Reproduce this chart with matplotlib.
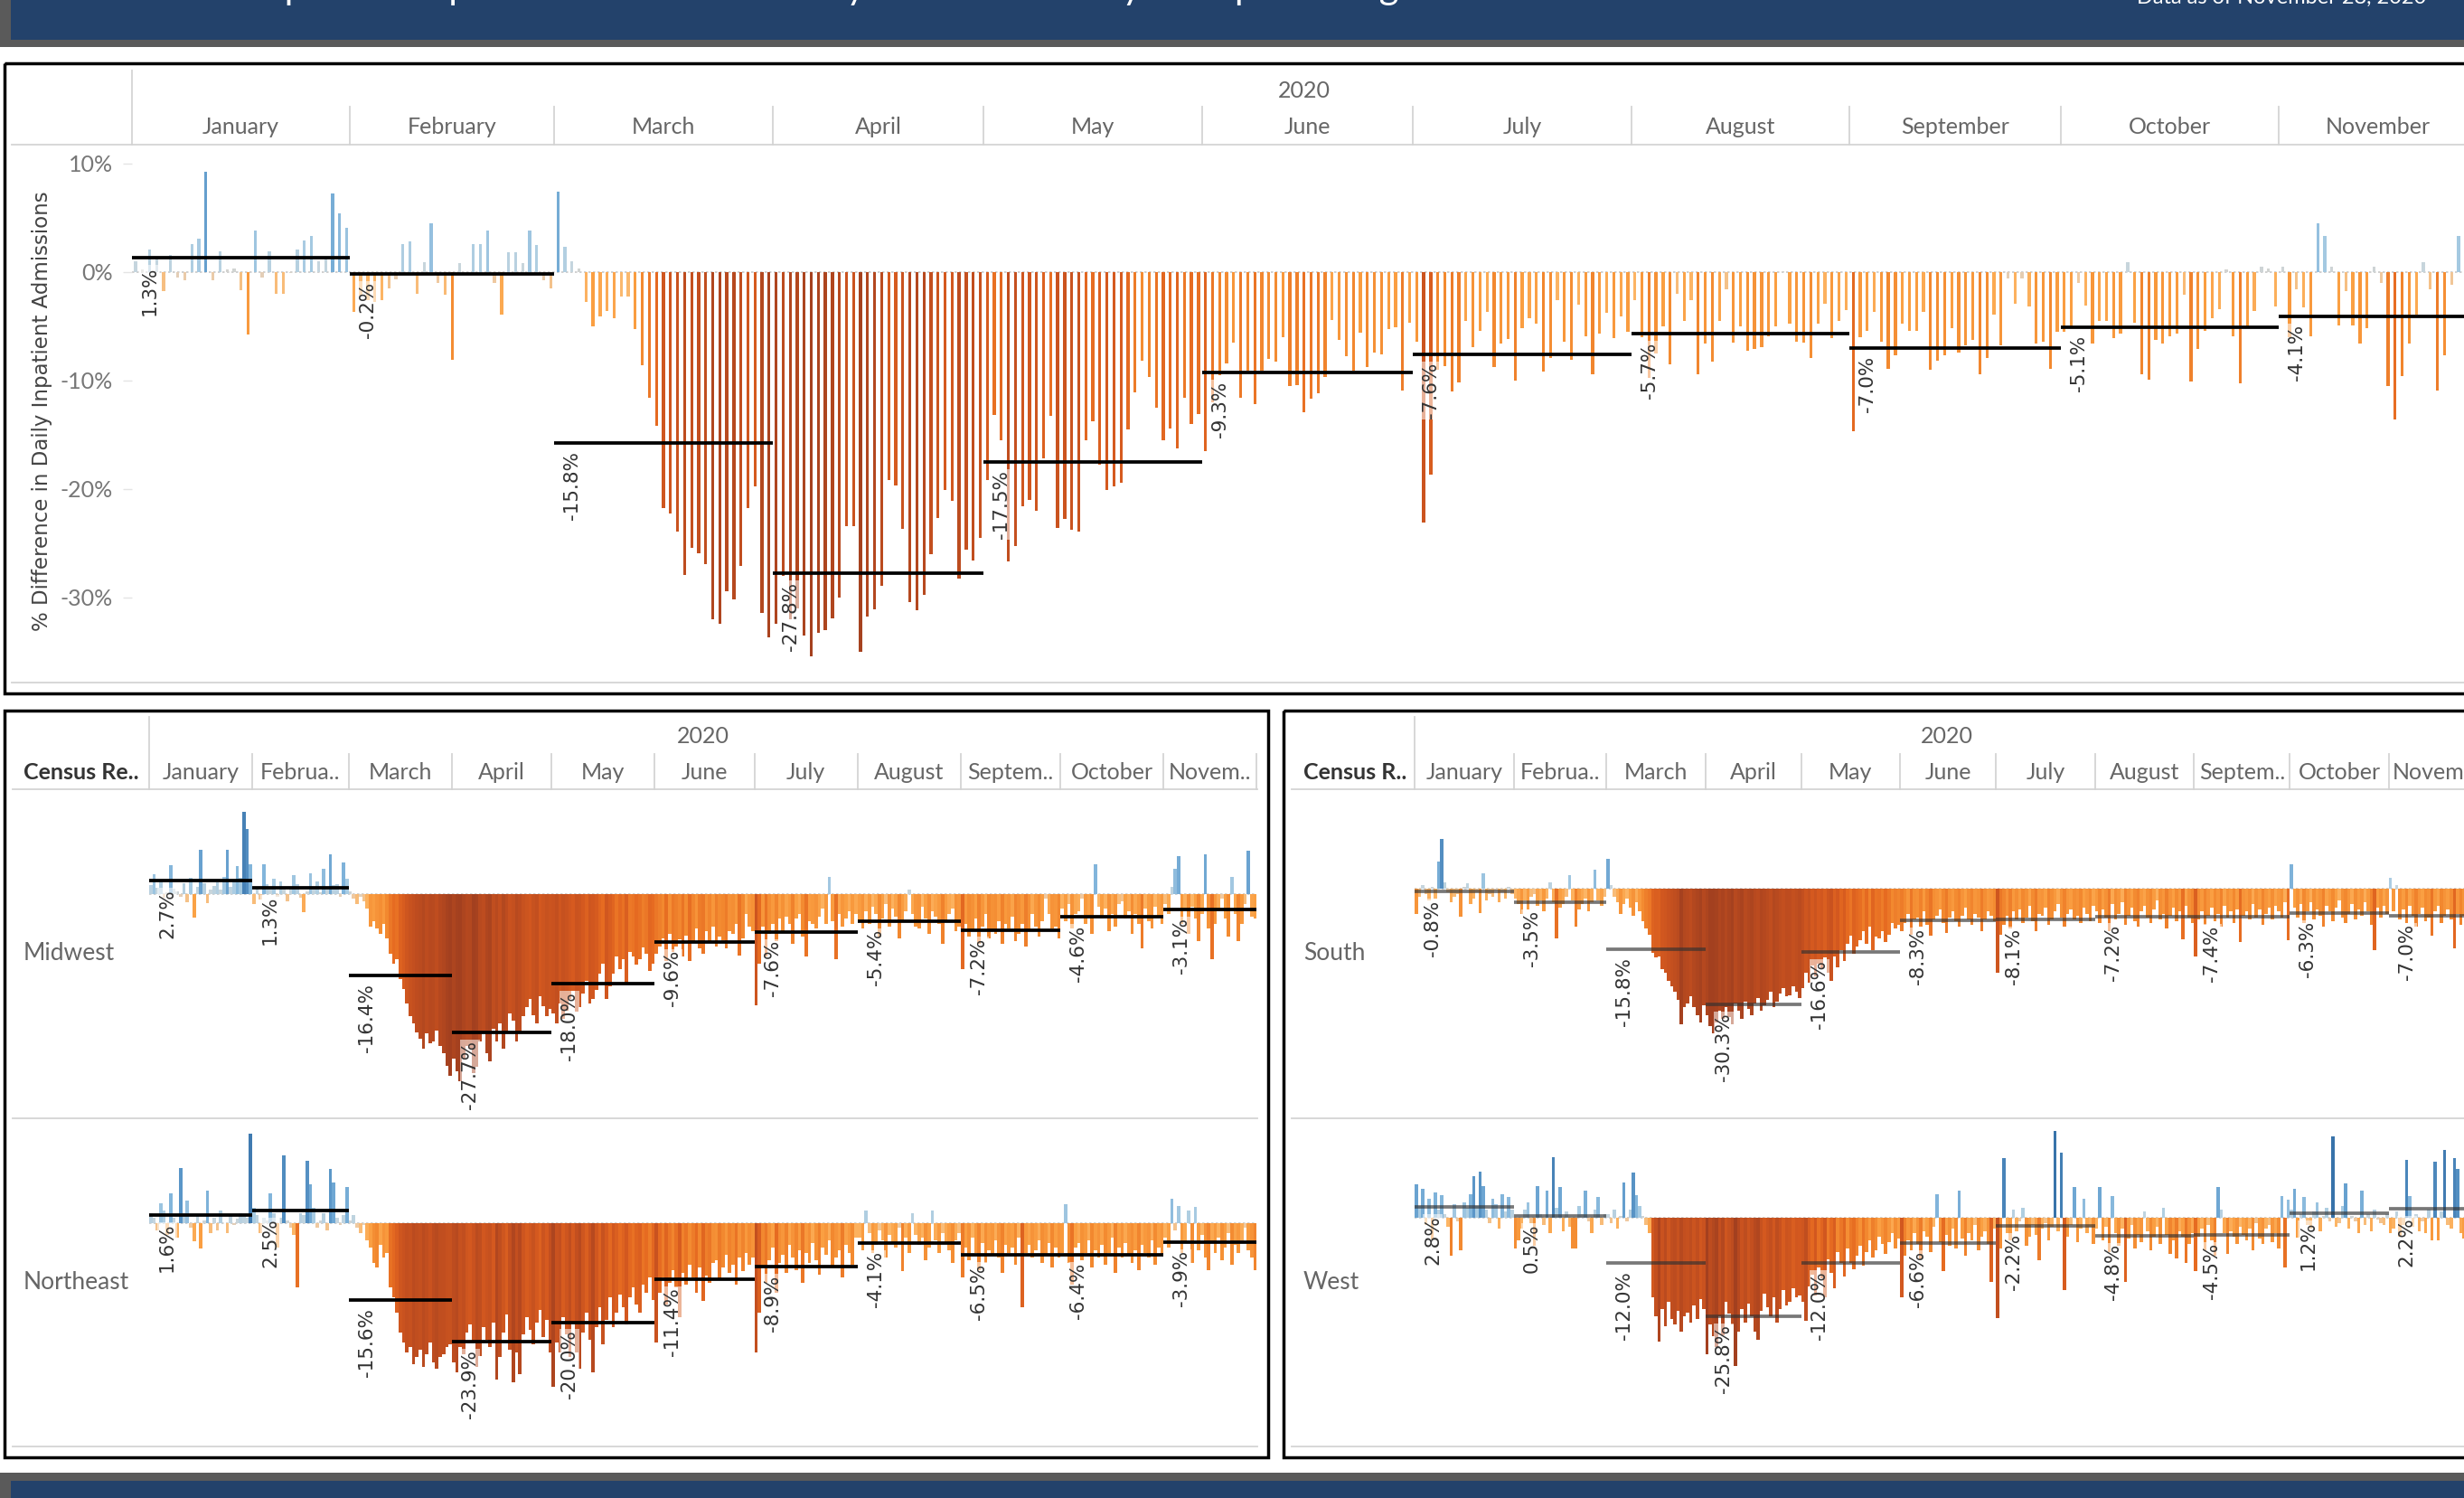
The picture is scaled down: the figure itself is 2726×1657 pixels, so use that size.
import numpy as np
import matplotlib
matplotlib.use("Agg")
from matplotlib import pyplot as plt
from matplotlib.patches import Rectangle
from matplotlib.colors import to_rgb

W, H = 2726, 1657

month_names = ["January", "February", "March", "April", "May", "June", "July",
               "August", "September", "October", "November"]
month_names_short = ["January", "Februa..", "March", "April", "May", "June", "July",
                     "August", "Septem..", "October", "Novem.."]
month_days = [31, 29, 31, 30, 31, 30, 31, 31, 30, 31, 28]

# daily % difference, one list per month
national = [
    [1.0, 0.2, 2.1, 1.2, -1.8, 1.6, -0.5, -0.8, 2.6, 3.1, 9.2, -0.8, 1.9, 0.2, 0.3, -1.7,
     -5.8, 3.8, -0.5, 1.9, -2.0, -2.0, -0.1, 2.1, 2.9, 3.3, 1.0, 1.2, 7.2, 5.4, 4.1],
    [-3.7, -2.2, -2.6, -2.8, -2.6, -1.5, -0.7, 2.6, 2.8, -2.0, 0.9, 4.5, -1.0, -2.1, -8.1,
     0.8, 0.0, 2.6, 2.6, 3.8, -1.0, -3.9, 1.8, 1.8, 0.8, 3.8, 2.5, -0.8, -1.5],
    [7.4, 2.3, 1.0, 0.3, -2.8, -5.0, -4.1, -3.6, -4.3, -2.3, -2.3, -5.3, -8.6, -11.6, -14.2,
     -21.8, -22.3, -23.9, -27.9, -25.4, -25.9, -26.9, -32.0, -32.4, -29.4, -30.2, -27.1,
     -21.8, -19.8, -31.4, -33.7],
    [-32.4, -28.0, -32.0, -31.0, -33.5, -35.4, -33.3, -33.0, -31.9, -30.0, -23.4, -23.4,
     -35.0, -31.8, -31.1, -28.9, -19.2, -19.7, -23.7, -30.4, -31.2, -29.8, -26.0, -22.7,
     -20.1, -21.1, -28.3, -25.6, -26.6, -24.5],
    [-19.2, -13.2, -15.5, -26.7, -25.3, -21.6, -21.0, -22.0, -17.2, -13.3, -23.6, -22.8,
     -23.8, -23.9, -15.5, -13.8, -17.8, -20.1, -19.8, -19.4, -14.5, -11.1, -8.2, -9.7,
     -12.5, -15.5, -14.4, -16.3, -11.6, -14.0, -13.1],
    [-16.5, -12.0, -9.5, -8.4, -6.5, -11.6, -9.1, -12.2, -9.1, -8.0, -8.3, -6.0, -10.5,
     -10.4, -12.9, -11.7, -11.2, -9.7, -4.4, -6.3, -7.8, -9.1, -5.6, -8.8, -7.4, -7.6,
     -5.3, -5.1, -10.9, -4.7],
    [-6.4, -23.1, -18.7, -9.0, -8.7, -11.0, -10.2, -4.5, -6.9, -5.4, -3.7, -8.8, -6.6,
     -6.2, -10.0, -5.2, -4.3, -4.8, -9.2, -7.9, -2.6, -6.4, -8.1, -3.0, -5.9, -9.4, -5.7,
     -3.8, -6.1, -4.1, -5.5],
    [-2.6, -6.0, -9.8, -7.5, -5.0, -8.5, -2.0, -4.5, -2.6, -9.4, -6.6, -8.3, -4.5, -1.6,
     -6.5, -5.0, -7.3, -7.1, -6.9, -5.9, -5.0, 0.1, -4.8, -6.4, -6.5, -7.9, -4.8, -2.9,
     -6.1, -4.5, -3.5],
    [-14.7, -6.0, -5.4, -3.7, -6.4, -8.9, -7.7, -4.8, -5.4, -5.4, -3.7, -9.0, -8.2, -7.7,
     -5.2, -7.4, -6.8, -6.3, -9.4, -7.9, -3.9, -6.8, -0.6, -2.9, -0.6, -3.2, -6.6, -6.4,
     -8.9, -5.5],
    [-5.5, -5.2, -1.0, -3.1, -6.6, -4.5, -4.5, -6.1, -5.7, 0.9, -4.7, -9.4, -9.9, -6.3,
     -6.6, -5.9, -5.7, -2.1, -10.1, -7.1, -5.4, -4.3, -3.4, 0.2, -5.9, -10.3, -5.2, -3.6,
     0.5, 0.3, -3.2],
    [0.5, -6.0, -1.6, -3.3, -5.9, 4.5, 3.3, 0.5, -4.9, -1.8, -4.9, -6.6, -5.2, 0.5, -1.0,
     -10.5, -13.6, -9.6, -6.6, -3.9, 0.9, -1.6, -10.9, -7.7, -1.2, 3.3],
]
national_avg = [1.3, -0.2, -15.8, -27.8, -17.5, -9.3, -7.6, -5.7, -7.0, -5.1, -4.1]

midwest = [
    [1.8, 4.0, 1.2, 2.6, -0.8, 0.4, 5.8, 1.0, 0.6, -0.5, 2.2, -1.6, 3.2, -4.7, 1.4, 8.9,
     2.2, -1.9, 0.8, 1.6, 2.4, 0.9, 3.5, 8.9, 1.4, 2.8, 5.5, 3.3, 16.4, 13.0, 6.0],
    [-2.0, 1.5, -1.2, 6.0, 2.0, 1.0, 3.0, -0.5, 2.5, 0.8, -1.5, 1.0, 3.7, 2.0, -0.8, -3.6,
     0.5, 4.2, 1.2, 2.5, 0.3, 5.0, 1.0, 7.9, 1.8, 2.0, -0.5, 6.4, 3.0],
    [0.5, -1.0, -2.0, -0.5, -1.5, -3.0, -6.5, -5.5, -7.0, -8.0, -6.0, -9.0, -12.0, -14.0,
     -13.0, -17.0, -19.0, -22.0, -24.5, -26.0, -27.8, -29.0, -31.0, -28.0, -30.0, -29.5,
     -27.4, -30.5, -32.0, -34.5, -36.4],
    [-33.0, -35.5, -37.5, -33.0, -30.5, -31.0, -36.0, -34.7, -29.5, -28.0, -32.0, -33.5,
     -27.0, -29.5, -26.0, -31.0, -27.8, -24.0, -25.5, -29.6, -27.8, -24.5, -22.7, -21.0,
     -24.4, -26.0, -20.5, -22.5, -24.5, -23.0],
    [-24.0, -26.0, -22.0, -25.0, -23.5, -21.0, -19.5, -23.6, -22.7, -20.0, -17.5, -22.0,
     -21.0, -19.3, -16.0, -14.0, -21.0, -18.5, -16.0, -12.5, -15.0, -13.0, -18.0, -11.7,
     -12.5, -14.2, -13.0, -10.8, -12.0, -15.5, -14.0],
    [-12.0, -10.5, -9.0, -13.5, -8.0, -11.7, -10.5, -9.1, -12.5, -8.3, -13.4, -9.5, -7.0,
     -11.0, -12.0, -7.4, -9.5, -6.6, -10.5, -8.5, -9.2, -11.0, -7.4, -8.0, -6.0, -12.4,
     -9.0, -4.0, -6.5, -7.5],
    [-22.3, -14.0, -6.6, -12.5, -8.0, -6.0, -9.5, -5.0, -7.5, -4.5, -6.0, -10.0, -5.0,
     -4.0, -8.5, -12.5, -5.5, -6.0, -7.0, -4.5, -3.0, -6.0, 3.5, -5.5, -13.0, -4.0, -6.5,
     -5.0, -3.5, -6.0, -4.0],
    [-5.5, -7.0, -3.5, -6.0, -2.5, -4.0, -8.5, -5.0, -2.0, -6.5, -3.0, -4.5, -9.0, -5.5,
     -3.5, 0.8, -4.0, -6.5, -7.0, -2.5, -5.0, -8.0, -3.5, -4.5, -6.0, -10.0, -5.5, -4.0,
     -3.0, -7.5, -6.5],
    [-15.0, -6.0, -8.5, -7.4, -5.0, -10.0, -6.5, -4.0, -9.0, -7.5, -8.0, -5.5, -10.0, -6.0,
     -7.0, -4.5, -9.5, -8.0, -6.0, -10.5, -7.5, -4.0, -6.5, -8.5, -5.5, -1.0, -4.0, -7.0,
     -6.5, -9.0],
    [-3.0, -5.5, -2.0, -7.0, -4.0, -3.5, -1.0, -6.0, -4.5, -8.0, 6.0, -2.5, -5.0, -3.0,
     -7.5, -4.0, -6.5, -2.0, -1.5, -5.0, -3.5, -8.0, -4.0, -6.0, -11.0, -3.0, -5.5, -7.0,
     -2.5, -4.5, -6.0],
    [-2.0, -4.0, 1.5, 5.0, 7.5, -6.0, -3.0, -8.0, -2.5, -5.0, -9.5, -4.0, 8.0, -7.0, -13.0,
     -6.0, -3.5, -1.0, -5.0, -8.5, 3.5, -4.0, -9.5, -6.0, -2.0, 8.6, -4.5, -5.0],
]
midwest_avg = [2.7, 1.3, -16.4, -27.7, -18.0, -9.6, -7.6, -5.4, -7.2, -4.6, -3.1]

northeast = [
    [2.0, 1.0, -1.5, 4.0, 2.5, -2.5, 6.0, 1.0, -3.0, 11.0, 2.0, 4.5, -1.0, -3.8, 1.5, -5.1,
     0.5, 6.4, -2.0, 1.0, -1.5, 2.5, 0.0, -2.0, 1.5, -0.5, 0.8, 2.0, 1.5, 1.0, 17.9],
    [3.0, 1.5, -2.0, 1.0, 0.5, 6.0, 2.0, -5.0, 1.0, 13.6, 0.5, -1.0, -2.5, -13.0, 2.0, 1.5,
     12.5, 7.7, 3.0, -1.0, 0.5, 2.0, -1.5, 10.8, 8.1, 1.0, -0.5, 1.5, 7.2],
    [0.5, 1.5, -1.0, -2.0, -0.5, -3.5, -5.0, -8.0, -9.0, -4.5, -7.0, -6.0, -13.0, -15.0,
     -18.0, -22.0, -24.0, -26.0, -25.0, -28.5, -27.0, -25.5, -29.0, -26.5, -24.0, -28.0,
     -29.4, -27.0, -26.5, -25.0, -24.5],
    [-28.0, -30.0, -25.0, -26.5, -22.0, -20.5, -24.0, -29.0, -26.8, -21.0, -23.5, -25.0,
     -20.0, -31.5, -27.0, -22.0, -18.5, -25.5, -32.0, -26.0, -30.5, -22.5, -19.0, -21.5,
     -24.5, -20.0, -17.5, -23.0, -19.5, -26.0],
    [-33.0, -24.0, -26.0, -19.0, -22.5, -27.0, -20.0, -26.0, -29.4, -22.0, -18.0, -23.5,
     -30.0, -21.0, -17.0, -24.5, -19.5, -15.0, -21.0, -18.0, -14.5, -17.0, -20.5, -15.0,
     -13.0, -16.5, -18.0, -12.5, -14.0, -11.0, -15.5],
    [-24.0, -14.0, -11.0, -16.5, -12.0, -9.5, -13.0, -19.0, -10.0, -12.5, -8.5, -11.0,
     -14.0, -9.0, -15.8, -10.6, -12.0, -8.0, -7.5, -11.5, -9.0, -6.5, -10.0, -8.5, -12.5,
     -7.0, -9.8, -6.0, -8.5, -7.0],
    [-26.0, -18.0, -9.0, -12.0, -7.5, -5.0, -14.0, -8.0, -6.5, -10.0, -4.5, -7.0, -9.5,
     -5.5, -12.0, -6.0, -8.0, -4.0, -7.5, -10.5, -5.0, -6.5, -3.5, -9.0, -7.0, -5.5, -11.0,
     -4.5, -6.0, -8.5, -3.0],
    [-3.0, -5.5, 2.5, -2.0, -6.0, -4.5, -1.5, -3.5, -7.0, -2.5, -4.0, -5.0, -1.0, -9.8,
     -3.0, -6.0, 2.0, -2.5, -4.5, -3.0, -7.5, -5.0, 2.5, -3.5, -6.0, -2.0, -4.0, -5.5, -8.0,
     -3.5, -2.0],
    [-11.0, -5.0, -7.5, -3.0, -6.0, -9.5, -4.0, -8.0, -5.5, -6.5, -3.5, -7.0, -10.0, -4.5,
     -6.0, -5.0, -8.5, -3.0, -17.0, -6.0, -4.5, -7.0, -5.5, -3.5, -8.0, -6.5, -4.0, -9.0,
     -5.0, -7.0],
    [-6.0, 3.8, -8.0, -12.4, -5.0, -4.0, -7.5, -6.0, -3.5, -9.0, -5.5, -7.0, -4.5, -8.5,
     -6.0, -3.0, -10.0, -5.0, -7.0, -4.0, -6.5, -8.0, -5.5, -9.5, -4.5, -6.0, -7.0, -3.5,
     -8.5, -5.0, -6.5],
    [-3.0, -5.0, 4.9, -1.5, 3.4, -6.0, -4.0, 2.5, -8.0, 3.1, -5.5, -2.5, -7.0, -9.5, -4.0,
     -6.0, -3.0, -7.5, -5.0, -2.0, -8.5, -4.5, -6.0, -3.5, -1.0, -5.5, -7.0, -9.5],
]
northeast_avg = [1.6, 2.5, -15.6, -23.9, -20.0, -11.4, -8.9, -4.1, -6.5, -6.4, -3.9]

south = [
    [-6.7, -2.0, 1.0, -1.5, -3.0, 0.5, -2.5, 7.2, 13.0, 1.7, -1.0, -3.5, -2.0, -1.5, -7.2,
     0.5, 1.5, -4.0, -2.5, -1.0, -6.3, 4.0, -3.0, -1.5, -2.0, -0.5, -3.5, -1.0, -2.5, 0.5,
     -1.5],
    [-2.5, -4.0, -6.7, -3.0, -5.5, -2.0, -1.5, -4.5, -3.0, -6.0, -2.5, 1.7, -3.5, -13.0,
     -5.0, -4.0, -2.0, 3.6, -3.0, -10.0, -5.5, -4.0, -2.5, -6.0, -3.5, 5.0, -3.0, -4.5, -2.0],
    [7.8, 1.0, -2.0, -3.5, -6.7, -4.0, -2.5, -5.0, -7.0, -3.5, -6.0, -8.5, -10.5, -12.0,
     -16.7, -18.0, -17.8, -21.0, -22.0, -24.0, -25.6, -27.0, -29.0, -35.5, -31.0, -30.0,
     -28.0, -31.0, -33.0, -35.0, -30.5],
    [-33.0, -36.0, -37.8, -35.0, -32.0, -34.0, -31.0, -33.5, -35.5, -30.0, -32.0, -34.0,
     -29.5, -31.5, -33.0, -30.0, -28.5, -32.0, -30.5, -29.0, -27.0, -31.0, -29.5, -27.5,
     -26.0, -28.0, -27.8, -25.5, -27.0, -28.5],
    [-26.0, -22.0, -24.5, -20.0, -23.0, -19.5, -21.0, -18.0, -22.0, -24.0, -17.8, -20.5,
     -16.0, -19.0, -14.5, -12.2, -17.0, -15.0, -13.5, -11.0, -14.5, -10.0, -16.0, -12.5,
     -13.0, -11.0, -14.0, -12.0, -8.9, -10.5, -9.5],
    [-11.0, -9.0, -6.5, -12.0, -8.0, -7.5, -10.0, -6.0, -9.5, -12.2, -8.0, -7.0, -5.5, -9.0,
     -11.5, -7.5, -6.0, -8.5, -10.0, -7.0, -5.0, -8.0, -9.5, -6.5, -7.5, -11.0, -8.0, -6.0,
     -7.0, -8.5],
    [-22.0, -12.0, -9.5, -7.0, -10.5, -6.0, -8.0, -5.5, -9.0, -7.5, -4.5, -8.5, -11.0, -6.5,
     -7.0, -5.0, -9.5, -8.0, -6.0, -4.0, -7.5, -10.0, -6.5, -5.5, -8.0, -7.0, -9.0, -5.0,
     -6.5, -8.5, -4.5],
    [-6.0, -9.0, -5.5, -7.5, -11.0, -4.0, -8.0, -6.5, -3.5, -9.5, -7.0, -5.0, -8.5, -10.0,
     -6.0, -4.5, -7.5, -9.0, -5.5, -3.0, -8.0, -6.5, -10.5, -7.0, -5.0, -8.5, -6.0, -13.3,
     -4.5, -7.5, -9.0],
    [-17.8, -8.0, -6.0, -9.5, -7.0, -5.0, -8.5, -6.5, -10.0, -4.5, -7.5, -6.0, -9.0, -5.5,
     -13.9, -7.0, -6.0, -8.0, -4.0, -7.5, -5.5, -9.5, -6.5, -5.0, -8.0, -4.5, -6.0, -7.5,
     -3.5, -13.5],
    [6.4, -5.0, -7.5, -4.0, -9.0, -6.0, -3.5, -8.0, -5.5, -7.0, -10.0, -4.5, -6.0, -8.5,
     -5.0, -3.0, -7.5, -9.0, -6.5, -4.0, -8.0, -5.5, -7.0, -3.5, -6.0, -9.5, -16.0, -5.0,
     -7.5, -4.5, -6.5],
    [2.8, -6.0, 1.0, -8.0, -5.5, -9.0, -4.5, -7.0, -10.0, -6.5, -5.0, -8.5, -7.5, -12.2,
     -6.0, -4.5, -9.0, -7.0, -5.5, -8.0, -15.5, -6.5, -9.5, -7.0],
]
south_avg = [-0.8, -3.5, -15.8, -30.3, -16.6, -8.3, -8.1, -7.2, -7.4, -6.3, -7.0]

west = [
    [8.7, 3.0, 7.5, -2.0, 5.0, -5.8, 6.5, 2.0, 5.9, 1.0, -2.5, -10.0, 3.5, -1.0, -8.6, 4.0,
     2.5, 6.0, 10.9, 3.0, 12.0, 8.3, 2.0, -1.5, 5.0, 3.5, -3.0, 6.0, 1.5, 5.3, 2.0],
    [-8.0, -6.0, -3.0, 2.0, 4.0, -1.5, -7.4, 8.3, 1.0, -2.0, 7.0, -4.0, 15.9, 2.5, 8.1,
     -3.5, 1.5, -2.5, -8.0, -8.0, 3.0, 1.0, 7.0, -1.0, -4.0, 2.0, 5.5, -2.0, 1.0],
    [1.0, -1.5, 2.0, -3.0, 0.5, 9.2, -1.0, 2.0, 11.7, 5.9, 3.0, 0.5, -2.0, -4.0, -20.8,
     -26.0, -32.4, -24.0, -28.5, -22.0, -26.5, -28.0, -24.5, -30.0, -26.0, -25.0, -27.5,
     -23.0, -26.5, -21.5, -24.0],
    [-35.8, -28.0, -31.0, -34.0, -26.0, -30.8, -22.0, -25.2, -28.0, -39.0, -30.0, -24.0,
     -27.5, -22.5, -26.0, -30.0, -32.0, -24.5, -20.0, -23.5, -26.0, -21.0, -27.5, -24.0,
     -19.0, -23.0, -22.0, -18.5, -21.0, -20.5],
    [-22.0, -27.0, -18.0, -15.0, -20.5, -13.0, -16.0, -21.0, -11.0, -14.5, -18.5, -9.0,
     -12.0, -15.5, -8.0, -11.9, -13.5, -10.0, -7.5, -12.5, -9.0, -6.0, -10.5, -8.5, -5.0,
     -7.0, -9.5, -6.5, -4.0, -8.0, -5.5],
    [-20.8, -10.0, -6.0, -8.5, -4.0, -7.0, -11.0, -3.5, -5.0, -9.0, -2.5, 6.1, -6.5, -14.0,
     -4.5, -7.5, -3.0, -8.0, 7.0, -5.5, -10.0, -4.0, -6.0, -2.0, -8.5, -5.0, -3.5, -7.0,
     -16.9, -3.0],
    [-26.3, -8.0, 15.6, -4.0, -6.0, 2.0, -3.5, -1.0, 2.5, -7.5, -5.0, -2.0, -4.5, -11.3,
     -3.0, -1.5, -6.0, -2.5, 22.8, -3.5, 17.0, -19.0, -5.0, -2.0, 8.1, -6.5, -3.0, 5.0,
     -4.0, -2.5, -7.0],
    [-3.0, 8.1, -6.0, -2.5, -9.0, 5.6, -4.0, -7.5, -3.0, -16.9, -5.5, -2.0, -8.0, -4.5,
     -6.5, 1.5, -3.5, -8.5, -5.0, -2.5, -7.0, 2.5, -4.5, -9.5, -6.0, -10.8, -3.5, -5.0,
     -12.0, -7.0, -4.0],
    [-14.0, -5.0, -3.0, -8.5, -2.0, -6.0, -10.0, 8.1, 2.0, -4.0, -9.5, -3.5, -5.0, -7.0,
     -2.5, -4.5, -6.0, -3.0, -8.5, -1.5, -5.5, -7.0, -3.0, -2.0, -6.5, -4.0, -8.0, 5.6,
     -13.0, 4.7],
    [2.0, 7.6, -5.2, 1.0, 5.3, -2.0, -3.0, 1.5, 4.0, -3.5, 0.5, 2.5, -1.0, 21.2, -2.5,
     -1.5, 3.0, 9.0, -3.0, 0.5, -1.0, -4.0, 7.0, -2.0, 1.0, -3.5, 2.0, -0.5, -1.5, -2.0, 1.0],
    [-4.0, -3.0, 1.5, -5.0, -2.0, 15.0, 5.7, -2.5, 1.0, -3.5, -1.0, -4.0, 2.0, -6.0, 14.6,
     -6.0, 1.5, 17.6, -2.0, -3.0, 15.6, 12.8, -4.0, -5.5],
]
west_avg = [2.8, 0.5, -12.0, -25.8, -12.0, -6.6, -2.2, -4.8, -4.5, 1.2, 2.2]

# diverging orange-blue colouring by value
color_stops = [(-36, "#a3401f"), (-28, "#bd4c1f"), (-20, "#d4591f"), (-14, "#e66b21"),
               (-9, "#f2882f"), (-5, "#fa9f42"), (-2.5, "#fcb565"), (-1, "#efc9a0"),
               (0, "#d6d3cd"), (1, "#c5d5de"), (3, "#a8cbe2"), (6, "#82b5db"),
               (10, "#5e9acb"), (20, "#3873aa")]
stop_x = [s[0] for s in color_stops]
stop_rgb = np.array([to_rgb(s[1]) for s in color_stops])


def bar_color(v):
    return tuple(np.interp(v, stop_x, stop_rgb[:, k]) for k in range(3))


starts = np.concatenate([[0], np.cumsum(month_days)])
n_days = starts[-1]

fig = plt.figure(figsize=(W / 100, H / 100), dpi=100)
bg = fig.add_axes([0, 0, 1, 1], zorder=0)
bg.set_xlim(0, W)
bg.set_ylim(H, 0)
bg.axis("off")

HEAD = "Lato"
TXT = "DejaVu Sans"


def px_axes(x0, y0, x1, y1):
    return fig.add_axes([x0 / W, 1 - y1 / H, (x1 - x0) / W, (y1 - y0) / H],
                        zorder=1, facecolor="none")


def draw_region(ax, daily, avgs, ylim, bar_w, line_color, line_alpha):
    for m, vals in enumerate(daily):
        x = starts[m] + np.arange(len(vals)) + 0.5
        ax.bar(x, vals, width=bar_w, color=[bar_color(v) for v in vals],
               linewidth=0, zorder=2)
        ax.plot([starts[m], starts[m + 1]], [avgs[m], avgs[m]], color=line_color,
                alpha=line_alpha, lw=2.7, solid_capstyle="butt", zorder=3)
        ax.annotate(f"{avgs[m]:.1f}%", xy=(starts[m], avgs[m]), xytext=(20, -9),
                    textcoords="offset pixels", rotation=90, ha="center", va="top",
                    fontsize=15.5, color="#333333", family=TXT, zorder=4,
                    bbox=dict(boxstyle="square,pad=0.05", fc="white", ec="none", alpha=0.55))
    ax.axhline(0, color="#c8c8c8", lw=1.2, ls=(0, (1.5, 1.5)), zorder=1)
    ax.set_xlim(0, n_days)
    ax.set_ylim(*ylim)
    for s in ax.spines.values():
        s.set_visible(False)
    ax.set_xticks([])


def draw_header(x0, ppd, y_year, y_month, y_sep, y_line, y_first, labels):
    x_end = x0 + n_days * ppd
    bg.text((x0 + x_end) / 2, y_year, "2020", ha="center", va="center",
            fontsize=18, color="#666666", family=HEAD)
    for m, lab in enumerate(labels):
        xa = x0 + starts[m] * ppd
        xb = x0 + starts[m + 1] * ppd
        bg.text((xa + xb) / 2, y_month, lab, ha="center", va="center",
                fontsize=18, color="#666666", family=HEAD)
        bg.plot([xb, xb], [y_sep, y_line], color="#d4d4d4", lw=1.3)
    bg.plot([x0, x0], [y_first, y_line], color="#d4d4d4", lw=1.3)


# header and footer bands (title text is cropped by the top edge, as in the dashboard)
bg.add_patch(Rectangle((0, 0), W, 52, fc="#5a5a5a", ec="none"))
bg.add_patch(Rectangle((12, 0), W, 43.5, fc="#23426b", ec="none"))
bg.text(62, -1, "COVID-19 Impact on Inpatient Admissions: Daily % Difference by Group and Region",
        ha="left", va="baseline", fontsize=30, color="white", family=HEAD)
bg.text(2684, 4, "Data as of November 28, 2020", ha="right", va="baseline",
        fontsize=17, color="white", family=HEAD)
bg.add_patch(Rectangle((0, 1629), W, 28, fc="#5a5a5a", ec="none"))
bg.add_patch(Rectangle((12, 1638), W, 19, fc="#23426b", ec="none"))

# ---- national panel ----
bg.add_patch(Rectangle((5, 70), 2800, 697, fill=False, ec="black", lw=2.5))
top_x0, top_ppd = 146, 7.788
draw_header(top_x0, top_ppd, 101, 141, 118, 160, 78, month_names)
bg.plot([13, W], [160, 160], color="#d4d4d4", lw=1.3)
bg.plot([13, W], [754.5, 754.5], color="#d4d4d4", lw=1.3)
bg.text(47, 455, "% Difference in Daily Inpatient Admissions", rotation=90,
        ha="center", va="center", fontsize=16.5, color="#444444", family=TXT)

ax_top = px_axes(top_x0, 160, top_x0 + n_days * top_ppd, 754.5)
draw_region(ax_top, national, national_avg, (-37.8, 11.73), 0.42, "black", 1.0)
ax_top.set_yticks([10, 0, -10, -20, -30])
ax_top.set_yticklabels(["10%", "0%", "-10%", "-20%", "-30%"], family=HEAD)
ax_top.tick_params(axis="y", length=7, width=1, color="#e4e4e4", pad=8,
                   labelsize=18, labelcolor="#777777")

# ---- regional panels ----
regions_left = [("Midwest", midwest, midwest_avg), ("Northeast", northeast, northeast_avg)]
regions_right = [("South", south, south_avg), ("West", west, west_avg)]
row_bounds = [(873, 1237), (1237, 1600)]

panels = [
    dict(box=(5, 786, 1398, 826), x0=165, ppd=3.68, lab_x=26, line_x=(14, 1391),
         regions=regions_left, ylim=(-45, 21), head="Census Re..",
         lcolor="black", lalpha=1.0),
    dict(box=(1420, 786, 1400, 826), x0=1565, ppd=3.534, lab_x=1442, line_x=(1429, W),
         regions=regions_right, ylim=(-60, 26), head="Census R..",
         lcolor="#303030", lalpha=0.65),
]

for p in panels:
    bx, by, bw, bh = p["box"]
    bg.add_patch(Rectangle((bx, by), bw, bh, fill=False, ec="black", lw=2.5))
    draw_header(p["x0"], p["ppd"], 814, 855, 834, 873, 793, month_names_short)
    bg.text(p["lab_x"], 855, p["head"], ha="left", va="center", fontsize=18,
            color="#333333", family=HEAD, fontweight="bold")
    for yl in [873, 1237, 1600]:
        bg.plot(list(p["line_x"]), [yl, yl], color="#d4d4d4", lw=1.3)
    for (name, daily, avgs), (ya, yb) in zip(p["regions"], row_bounds):
        bg.text(p["lab_x"], (ya + yb) / 2, name, ha="left", va="center",
                fontsize=19, color="#666666", family=HEAD)
        ax = px_axes(p["x0"], ya, p["x0"] + n_days * p["ppd"], yb)
        draw_region(ax, daily, avgs, p["ylim"], 1.0, p["lcolor"], p["lalpha"])
        ax.set_yticks([])

fig.savefig("out.png", dpi=100)
